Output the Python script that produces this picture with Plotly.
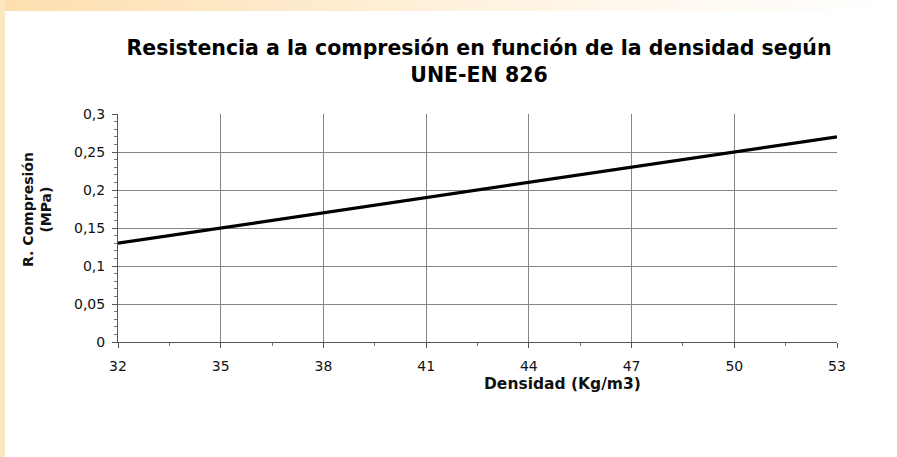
import plotly.graph_objects as go

densidad = [32, 35, 38, 41, 44, 47, 50, 53]
resistencia = [0.13, 0.15, 0.17, 0.19, 0.21, 0.23, 0.25, 0.27]
x_ticks = [32, 35, 38, 41, 44, 47, 50, 53]
y_ticks = [0, 0.05, 0.1, 0.15, 0.2, 0.25, 0.3]
y_labels = ["0", "0,05", "0,1", "0,15", "0,2", "0,25", "0,3"]

FONT = "DejaVu Sans, Arial, sans-serif"

fig = go.Figure()
fig.add_trace(go.Scatter(x=densidad, y=resistencia, mode="lines",
                         line=dict(color="#000000", width=3.2), showlegend=False))

W, H = 897, 457
L, R, T, B = 118, 60, 114, 115
PW, PH = W - L - R, H - T - B

svg = ("data:image/svg+xml;utf8,<svg xmlns='http://www.w3.org/2000/svg' width='897' height='457'>"
       "<defs><linearGradient id='g' x1='0' y1='0' x2='1' y2='0'>"
       "<stop offset='0' stop-color='%23fddfae'/><stop offset='0.7' stop-color='%23fff8ee'/>"
       "<stop offset='1' stop-color='%23ffffff'/></linearGradient></defs>"
       "<rect x='0' y='0' width='897' height='11' fill='url(%23g)'/>"
       "<rect x='0' y='0' width='5' height='457' fill='%23fde7bf'/>"
       "</svg>")

fig.add_layout_image(dict(source=svg, xref="paper", yref="paper",
                          x=-L / PW, y=1 + T / PH,
                          sizex=W / PW, sizey=H / PH,
                          xanchor="left", yanchor="top", sizing="stretch", layer="below"))

fig.update_layout(
    width=W, height=H,
    margin=dict(l=L, r=R, t=T, b=B),
    paper_bgcolor="white", plot_bgcolor="white",
    separators=",.",
    font=dict(family=FONT, size=14, color="#111111"),
    showlegend=False,
    title=dict(text="<b>Resistencia a la compresión en función de la densidad según<br>UNE-EN 826</b>",
               xref="paper", x=(479 - L) / PW, xanchor="center",
               yref="container", y=1 - 55 / H, yanchor="middle",
               font=dict(family=FONT, size=20.5, color="#000000")),
    xaxis=dict(range=[32, 53], tickvals=x_ticks, ticktext=[str(v) for v in x_ticks],
               showgrid=True, gridcolor="#858585", gridwidth=1,
               showline=True, linecolor="#555555", linewidth=1,
               ticks="outside", ticklen=5, tickcolor="#555555",
               ticklabelstandoff=6,
               minor=dict(dtick=1.5, tick0=32, ticks="outside", ticklen=3, tickcolor="#777777", showgrid=False),
               zeroline=False, tickfont=dict(size=14, color="#111111")),
    yaxis=dict(range=[0, 0.3], tickvals=y_ticks, ticktext=y_labels,
               showgrid=True, gridcolor="#858585", gridwidth=1,
               showline=True, linecolor="#555555", linewidth=1,
               ticks="outside", ticklen=5, tickcolor="#555555",
               ticklabelstandoff=4,
               minor=dict(dtick=0.01, tick0=0, ticks="outside", ticklen=3, tickcolor="#777777", showgrid=False),
               zeroline=False, tickfont=dict(size=14, color="#111111")),
)

fig.add_annotation(text="<b>R. Compresión<br>(MPa)</b>", xref="paper", yref="paper",
                   x=-(L - 37) / PW, y=(H - B - 210) / PH, textangle=-90, showarrow=False,
                   xanchor="center", yanchor="middle",
                   font=dict(family=FONT, size=14, color="#111111"))
fig.add_annotation(text="<b>Densidad (Kg/m3)</b>", xref="paper", yref="paper",
                   x=(562 - L) / PW, y=-(384 - (H - B)) / PH, showarrow=False,
                   xanchor="center", yanchor="middle",
                   font=dict(family=FONT, size=15.5, color="#111111"))

fig.write_html("out.html", config={"displayModeBar": False},
               post_script="document.body.style.margin='0';")
